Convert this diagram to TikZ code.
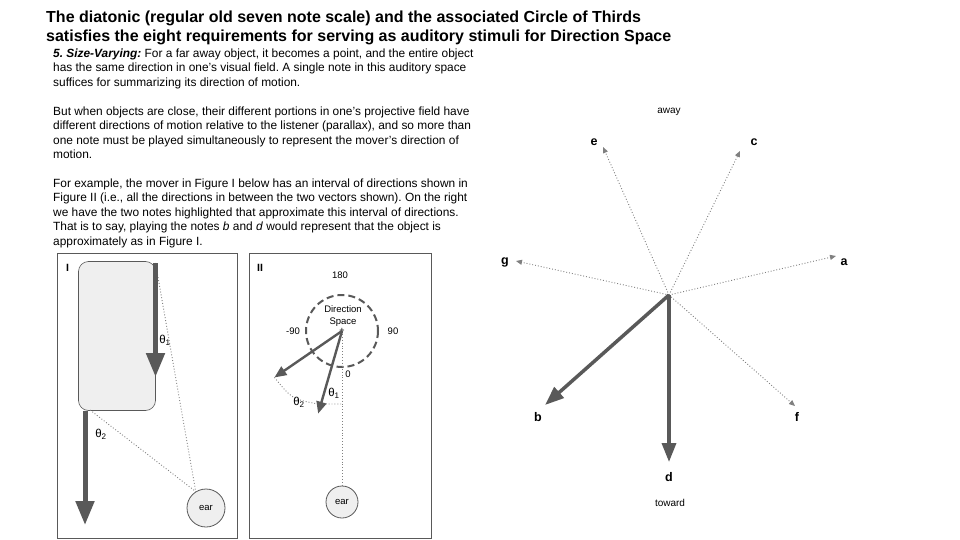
\documentclass[tikz,border=0pt]{standalone}
\usepackage{fontspec}
\setmainfont{Liberation Sans}
\usetikzlibrary{arrows.meta,calc}
\definecolor{dk}{HTML}{595959}
\definecolor{lt}{HTML}{EFEFEF}
\definecolor{dotc}{HTML}{808080}
\tikzset{
  panel/.style={draw=dk, line width=0.9pt, inner sep=0pt},
  bigarrow/.style={draw=dk, line width=5pt, -{Triangle[length=24pt,width=18pt]}},
  midarrow/.style={draw=dk, line width=2.4pt, -{Triangle[length=12pt,width=10pt]}},
  notearrow/.style={draw=dk, line width=3.5pt, -{Triangle[length=19pt,width=14pt]}},
  dotarrow/.style={draw=dotc, line width=0.9pt, dotted, -{Triangle[length=6pt,width=5pt]}},
  dotline/.style={draw=dotc, line width=0.9pt, dotted},
  earnode/.style={circle, draw=dk, fill=lt, line width=0.8pt, inner sep=0pt, font=\fontsize{9.5}{11}\selectfont},
  lab/.style={inner sep=0pt, font=\fontsize{9.5}{11}\selectfont},
  note/.style={inner sep=0pt, font=\bfseries\fontsize{12.5}{14}\selectfont},
  theta/.style={inner sep=0pt, font=\fontsize{11.5}{13}\selectfont},
  figlab/.style={inner sep=0pt, font=\bfseries\fontsize{10.5}{12}\selectfont},
}
\begin{document}
\frenchspacing
\begin{tikzpicture}[x=1pt,y=-1pt]
\useasboundingbox (0,0) rectangle (960,540);
\fill[white] (0,0) rectangle (960,540);
% title
\node[anchor=north west, align=left, inner sep=0pt, font=\bfseries\fontsize{16}{18.8}\selectfont] (title) at (46,10.5)
 {The diatonic (regular old seven note scale) and the associated Circle of Thirds\\
  satisfies the eight requirements for serving as auditory stimuli for Direction Space};
% body
\node[anchor=north west, align=left, inner sep=0pt, font=\fontsize{11.9}{14.45}\selectfont] (body) at (53,48.5)
 {\textbf{\textit{5. Size-Varying:}} For a far away object, it becomes a point, and the entire object\\
  has the same direction in one’s visual field. A single note in this auditory space\\
  suffices for summarizing its direction of motion.\\[14.45pt]
  But when objects are close, their different portions in one’s projective field have\\
  different directions of motion relative to the listener (parallax), and so more than\\
  one note must be played simultaneously to represent the mover’s direction of\\
  motion.\\[14.45pt]
  For example, the mover in Figure I below has an interval of directions shown in\\
  Figure II (i.e., all the directions in between the two vectors shown). On the right\\
  we have the two notes highlighted that approximate this interval of directions.\\
  That is to say, playing the notes \textit{b} and \textit{d} would represent that the object is\\
  approximately as in Figure I.};
% Figure I
\node[panel, minimum width=180pt, minimum height=285pt] (fig1) at (147,395.5) {};
\node[figlab] (lab1) at (67.5,268) {I};
\node[draw=dk, fill=lt, line width=0.6pt, rounded corners=10pt, minimum width=77pt, minimum height=149pt, inner sep=0pt] (mover) at (117,336) {};
\node[earnode, minimum size=38pt] (ear1) at (206,508) {ear};
\coordinate (t1s) at (155.5,263);
\coordinate (t1e) at (155.5,377);
\coordinate (t2s) at (85,411);
\coordinate (t2e) at (85,525);
\coordinate (m2) at (90,410);
\draw[dotline] (t1s) -- (ear1.122);
\draw[dotline] (m2) -- (ear1.122);
\draw[bigarrow] (t1s) -- (t1e);
\draw[bigarrow] (t2s) -- (t2e);
\node[theta] (th1a) at (165,340) {θ\textsubscript{1}};
\node[theta] (th2a) at (101,434) {θ\textsubscript{2}};
% Figure II
\node[panel, minimum width=182pt, minimum height=285pt] (fig2) at (340,395.5) {};
\node[figlab] (lab2) at (260,268) {II};
\coordinate (O) at (342,331);
\draw[dk, line width=2pt, dash pattern=on 7pt off 4pt] (O) circle[radius=36];
\node[inner sep=0pt, font=\fontsize{9}{9}\selectfont] (plus) at (O) {+};
\node[lab, align=center, font=\fontsize{9.5}{12}\selectfont] (ds) at (343,316) {Direction\\Space};
\node[lab] (l180) at (340,275) {180};
\node[lab] (lm90) at (293,331) {-90};
\node[lab] (l90) at (393,331) {90};
\node[lab] (l0) at (348,374) {0};
\node[earnode, minimum size=32pt] (ear2) at (342,502) {ear};
\draw[dotline] (O) -- (ear2.north);
\coordinate (tipL) at ($(O)+(145.5:82)$);
\coordinate (tipD) at ($(O)+(106.1:86)$);
\draw[dotline] (tipL) .. controls (292,399) .. (318,404) -- (342,404);
\draw[midarrow] (O) -- (tipL);
\draw[midarrow] (O) -- (tipD);
\node[theta] (th1b) at (334,393) {θ\textsubscript{1}};
\node[theta] (th2b) at (299,402) {θ\textsubscript{2}};
% Right: circle of thirds
\coordinate (C) at (669,295);
\node[lab, font=\fontsize{10}{12}\selectfont] (away) at (669,112) {away};
\node[lab, font=\fontsize{10}{12}\selectfont] (toward) at (670,503) {toward};
\node[note] (ne) at (594,142) {e};
\node[note] (nc) at (754,142) {c};
\node[note] (ng) at (505,262) {g};
\node[note] (na) at (844,262) {a};
\node[note] (nf) at (797,417) {f};
\node[note] (nb) at (538,417) {b};
\node[note] (nd) at (669,477) {d};
\coordinate (te) at (603,147);
\coordinate (tc) at (740,151);
\coordinate (tg) at (516,261);
\coordinate (ta) at (836,256);
\coordinate (tf) at (795,406);
\coordinate (tb) at (545,405);
\coordinate (td) at (669,462);
\draw[dotarrow] (C) -- (te);
\draw[dotarrow] (C) -- (tc);
\draw[dotarrow] (C) -- (tg);
\draw[dotarrow] (C) -- (ta);
\draw[dotarrow] (C) -- (tf);
\draw[notearrow] (C) -- (tb);
\draw[notearrow] (C) -- (td);
\end{tikzpicture}
\end{document}
